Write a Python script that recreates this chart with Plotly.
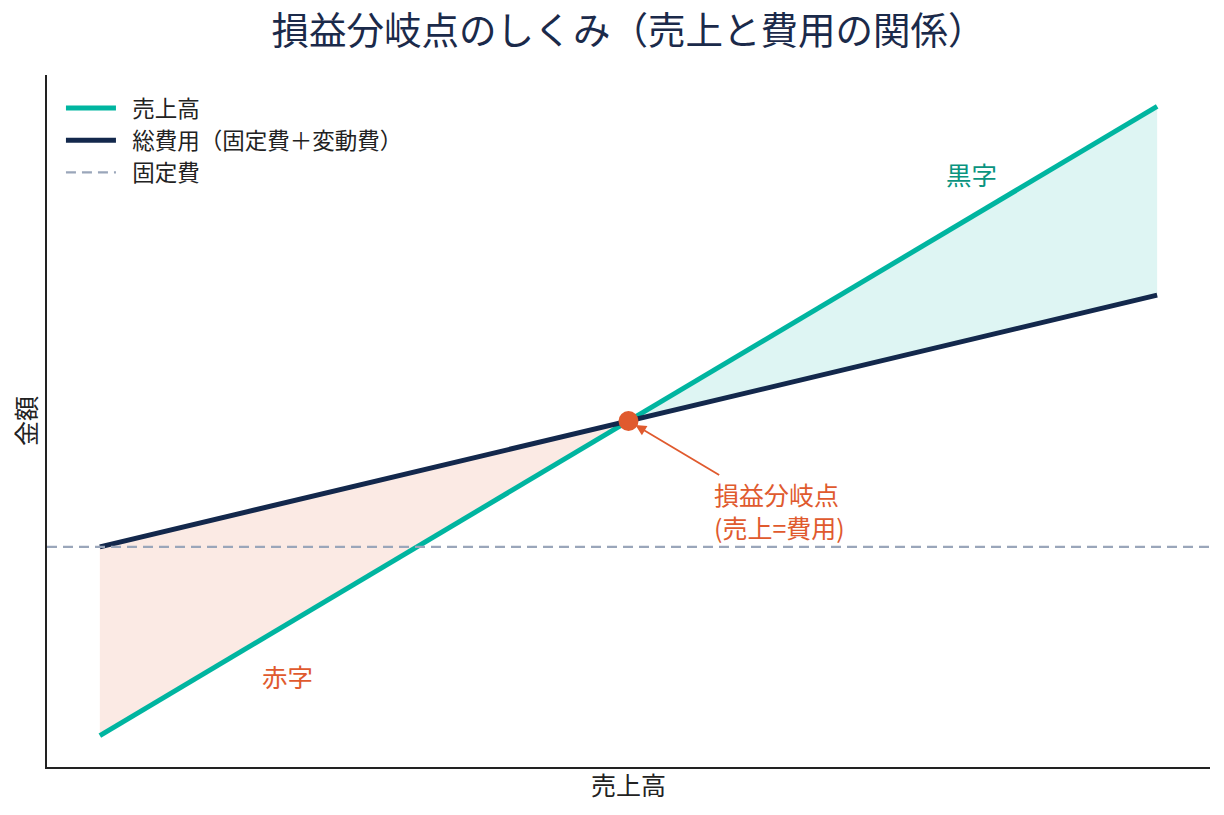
import plotly.graph_objects as go

# ---- data ----
volume = [0, 50, 100]            # sales volume (x)
sales = [0, 500, 1000]           # 売上高
total_cost = [300, 500, 700]     # 総費用（固定費＋変動費）
fixed_cost = 300                 # 固定費
bep_x, bep_y = 50, 500           # 損益分岐点

x_range = [-5, 105]
y_range = [-50, 1050]

FONT = "Noto Sans CJK JP"
TEAL = "#00B5A0"
NAVY = "#13284C"
GRAY = "#9AA6BA"
ORANGE = "#E05A2E"
SP = "\u2002"

fig = go.Figure()

# loss area (赤字)
fig.add_trace(go.Scatter(
    x=[volume[0], volume[1], volume[0]],
    y=[total_cost[0], total_cost[1], sales[0]],
    fill="toself", fillcolor="rgba(224,90,43,0.13)",
    line=dict(width=0), mode="lines", showlegend=False, hoverinfo="skip"))
# profit area (黒字)
fig.add_trace(go.Scatter(
    x=[volume[1], volume[2], volume[2]],
    y=[sales[1], sales[2], total_cost[2]],
    fill="toself", fillcolor="rgba(0,179,159,0.13)",
    line=dict(width=0), mode="lines", showlegend=False, hoverinfo="skip"))

fig.add_trace(go.Scatter(x=volume, y=sales, mode="lines", name=SP + "売上高",
                         line=dict(color=TEAL, width=5)))
fig.add_trace(go.Scatter(x=volume, y=total_cost, mode="lines",
                         name=SP + "総費用（固定費＋変動費）",
                         line=dict(color=NAVY, width=5)))
fig.add_trace(go.Scatter(x=x_range, y=[fixed_cost, fixed_cost], mode="lines",
                         name=SP + "固定費",
                         line=dict(color=GRAY, width=2.2, dash="10px,6px")))
fig.add_trace(go.Scatter(x=[bep_x], y=[bep_y], mode="markers", showlegend=False,
                         marker=dict(color=ORANGE, size=20)))

fig.add_annotation(x=bep_x, y=bep_y, ax=64.3, ay=357, axref="x", ayref="y",
                   text="損益分岐点<br>(売上=費用)", align="left",
                   showarrow=True, arrowhead=2, arrowsize=1.2, arrowwidth=1.8,
                   arrowcolor=ORANGE, standoff=8,
                   font=dict(family=FONT, size=25, color=ORANGE))
fig.add_annotation(x=82.4, y=894, text="黒字", showarrow=False,
                   font=dict(family=FONT, size=25.5, color="#0A9480"))
fig.add_annotation(x=17.7, y=96, text="赤字", showarrow=False,
                   font=dict(family=FONT, size=25.5, color=ORANGE))

fig.update_layout(
    width=1224, height=815,
    margin=dict(l=47, r=14, t=75, b=48),
    plot_bgcolor="white", paper_bgcolor="white",
    font=dict(family=FONT, color="#222222"),
    title=dict(text="損益分岐点のしくみ（売上と費用の関係）", xref="paper", x=0.5,
               xanchor="center", y=0.962, yanchor="middle",
               font=dict(family=FONT, size=37.5, color="#1B2A4A")),
    legend=dict(x=0.012, y=0.983, xanchor="left", yanchor="top",
                bgcolor="rgba(255,255,255,0)", itemwidth=50,
                font=dict(family=FONT, size=22.5, color="#222222"),
                tracegroupgap=0),
    showlegend=True,
)
fig.update_xaxes(range=x_range, showgrid=False, zeroline=False,
                 showticklabels=False, ticks="", showline=True,
                 linecolor="#222222", linewidth=1.6,
                 title=dict(text="売上高", standoff=10,
                            font=dict(family=FONT, size=25, color="#222222")))
fig.update_yaxes(range=y_range, showgrid=False, zeroline=False,
                 showticklabels=False, ticks="", showline=True,
                 linecolor="#222222", linewidth=1.6,
                 title=dict(text="金額", standoff=1,
                            font=dict(family=FONT, size=25, color="#222222")))

fig.write_html("out.html")
